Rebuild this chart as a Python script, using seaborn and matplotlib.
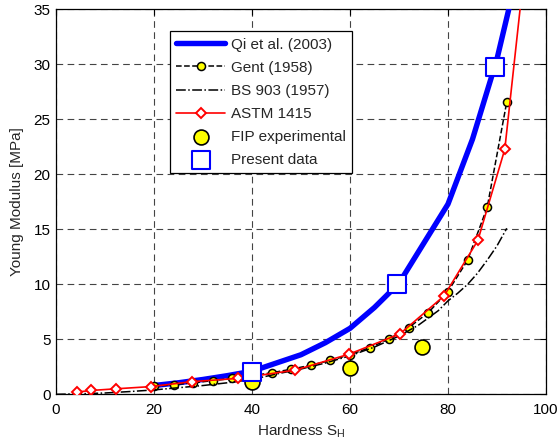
import numpy as np
import pandas as pd
import matplotlib
matplotlib.use("Agg")
import matplotlib.pyplot as plt
import seaborn as sns

# ---- data ----
qi_s = [20, 25, 30, 35, 40, 45, 50, 55, 60, 65, 70, 75, 80, 85, 90, 94]
qi_e = [0.8, 1.05, 1.35, 1.7, 2.1, 2.85, 3.6, 4.7, 6.0, 7.9, 10.1, 13.7, 17.3, 23.2, 30.5, 38.0]

gent_s = [20, 24, 28, 32, 36, 40, 44, 48, 52, 56, 60, 64, 68, 72, 76, 80, 84, 88, 92]
gent_e = [0.73, 0.88, 1.05, 1.24, 1.45, 1.69, 1.96, 2.28, 2.65, 3.08, 3.6, 4.24,
          5.04, 6.07, 7.44, 9.35, 12.2, 17.0, 26.6]

bs_s = [0, 5, 10, 15, 20, 25, 30, 35, 40, 45, 50, 55, 60, 65, 70, 74, 78, 80,
        82, 84, 86, 88, 90, 92]
bs_e = [0.0, 0.05, 0.12, 0.25, 0.4, 0.6, 0.8, 1.05, 1.35, 1.85, 2.3, 2.85, 3.5,
        4.3, 5.3, 6.3, 7.6, 8.5, 9.2, 10.0, 11.0, 12.2, 13.5, 15.1]

astm_s = [4.2, 7.2, 12.2, 19.3, 27.7, 37.2, 48.8, 59.8, 70.2, 79.2, 86.1, 91.6, 95.0]
astm_e = [0.2, 0.35, 0.5, 0.7, 1.15, 1.45, 2.2, 3.65, 5.5, 8.95, 14.0, 22.3, 36.2]

fip_s = [40, 60, 74.7]
fip_e = [1.15, 2.42, 4.3]

present_s = [40, 69.6, 89.6]
present_e = [2.05, 10.05, 29.8]

x_ticks = [0, 20, 40, 60, 80, 100]
y_ticks = [0, 5, 10, 15, 20, 25, 30, 35]

# ---- style ----
sns.set_style("white")
plt.rcParams["font.family"] = ["Liberation Sans", "DejaVu Sans"]
plt.rcParams["font.size"] = 11

fig = plt.figure(figsize=(5.59, 4.45), dpi=100)
ax = fig.add_axes([0.1002, 0.1139, 0.8765, 0.8648])

sns.lineplot(x=qi_s, y=qi_e, ax=ax, color="#0000ff", linewidth=3.9,
             label="Qi et al. (2003)", sort=False, zorder=3)
sns.lineplot(x=gent_s, y=gent_e, ax=ax, color="black", linewidth=1.1,
             linestyle="--", marker="o", markersize=5.8,
             markerfacecolor="#ffff00", markeredgecolor="black",
             markeredgewidth=1.1, label="Gent (1958)", sort=False, zorder=4)
sns.lineplot(x=bs_s, y=bs_e, ax=ax, color="black", linewidth=1.1,
             linestyle="-.", label="BS 903 (1957)", sort=False, zorder=4)
sns.lineplot(x=astm_s, y=astm_e, ax=ax, color="#ff0000", linewidth=1.2,
             marker="D", markersize=5.0, markerfacecolor="white",
             markeredgecolor="#ff0000", markeredgewidth=1.4,
             label="ASTM 1415", sort=False, zorder=5)
sns.scatterplot(x=fip_s, y=fip_e, ax=ax, color="#ffff00", edgecolor="black",
                linewidth=1.2, s=115, marker="o", label="FIP experimental",
                zorder=6)
sns.scatterplot(x=present_s, y=present_e, ax=ax, facecolor="white",
                edgecolor="#0000ff", linewidth=1.5, s=150, marker="s",
                label="Present data", zorder=7)

ax.set_xlim(0, 100)
ax.set_ylim(0, 35)
ax.set_xticks(x_ticks)
ax.set_yticks(y_ticks)
ax.set_xticklabels([str(t) for t in x_ticks])
ax.set_yticklabels([str(t) for t in y_ticks])

ax.grid(True, color="#444444", linestyle=(0, (6, 4)), linewidth=0.8)
ax.set_axisbelow(True)
ax.tick_params(direction="in", length=4, width=0.8, top=True, right=True,
               labelsize=11, colors="black")
ax.tick_params(axis="x", pad=6)
ax.tick_params(axis="y", pad=4)
for sp in ax.spines.values():
    sp.set_color("black")
    sp.set_linewidth(0.9)

ax.set_xlabel(r"Hardness S$_{\mathregular{H}}$", fontsize=11, labelpad=4)
ax.set_ylabel("Young Modulus [MPa]", fontsize=11, labelpad=7)

leg = ax.legend(loc="upper left", bbox_to_anchor=(0.233, 0.943),
                borderaxespad=0, fancybox=False, framealpha=1,
                edgecolor="black", fontsize=11, handlelength=3.2,
                labelspacing=0.6, handletextpad=0.35, borderpad=0.4,
                scatterpoints=1)
leg.get_frame().set_linewidth(0.9)

fig.savefig("out.png", dpi=100)
